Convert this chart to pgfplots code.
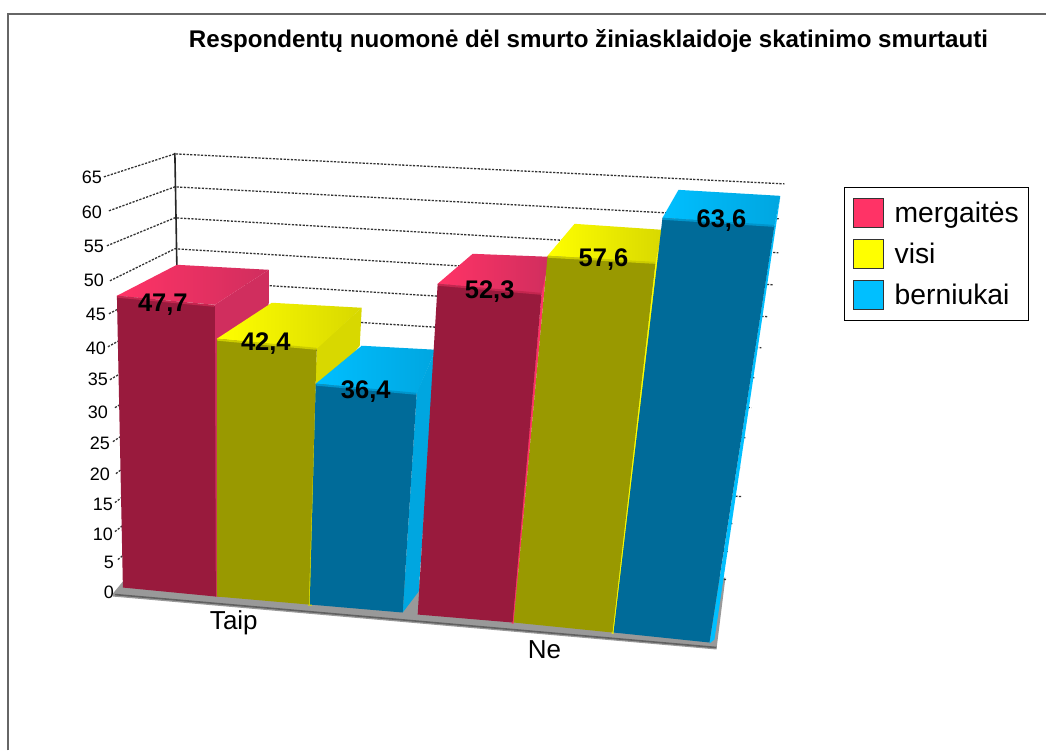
\documentclass[border=0pt]{standalone}
\usepackage{pgfplots}
\pgfplotsset{compat=1.18}
\usepackage{fontspec}
\setmainfont{Liberation Sans}
\definecolor{rT}{HTML}{FF3366}\definecolor{rS}{HTML}{D02E5E}\definecolor{rF}{HTML}{991A3D}\definecolor{rE}{HTML}{C4264F}
\definecolor{yT}{HTML}{FFFF00}\definecolor{yS}{HTML}{D8D800}\definecolor{yF}{HTML}{999900}\definecolor{yE}{HTML}{CCCC00}
\definecolor{bT}{HTML}{00BFFF}\definecolor{bS}{HTML}{00A6E0}\definecolor{bF}{HTML}{006B99}\definecolor{bE}{HTML}{0095CC}
\tikzset{
 grid line/.style={draw=black!80,line width=1.3pt,dash pattern=on 2.2pt off 1.4pt},
 face/.style={draw=none,fill=#1},
 topface/.style 2 args={draw=none,left color=#1,middle color=#1,right color=#2},
 edge/.style={draw=#1,line width=2pt,line cap=round},
 tick lab/.style={font=\fontsize{18}{18}\selectfont,inner sep=0pt},
 val lab/.style={font=\fontsize{25.5}{26}\selectfont\bfseries,inner sep=0pt},
 cat lab/.style={font=\fontsize{26}{26}\selectfont,inner sep=0pt}
}
\begin{document}
\begin{tikzpicture}
\begin{axis}[
 scale only axis,width=1047pt,height=751pt,
 xmin=0,xmax=1047,ymin=0,ymax=751,y dir=reverse,
 axis lines=none,clip=false,
 legend style={at={(axis cs:845,187)},anchor=north west,draw=black,line width=0.9pt,
   font=\fontsize{28.3}{30}\selectfont,inner xsep=8pt,inner ysep=10.5pt,
   row sep=11.4pt,column sep=9pt,cells={anchor=west}},
 legend image code/.code={\draw[#1,line width=0.9pt] (0pt,-14.5pt) rectangle (30pt,14.5pt);},
 legend cell align=left
]
% page and frame
\addplot[draw=none,fill=white,forget plot] coordinates {(0,0)(1047,0)(1047,751)(0,751)} --cycle;
\addplot[draw=black!60,line width=1.6pt,forget plot] coordinates {(8,751)(8,14)(1047,14)};
% floor
\addplot[face=black!40,forget plot] coordinates {(113,594)(123,582)(726,578)(717,650)(113,597)} --cycle;
\addplot[draw=black!62,line width=1.6pt,forget plot] coordinates {(115,595)(717,648)};
% grid: value 65..0, side wall, back corner, right end
\addplot[grid line,forget plot] coordinates {(104,177)(175,154)(785,184)};
\addplot[grid line,forget plot] coordinates {(109,211)(175,187)(780,219)};
\addplot[grid line,forget plot] coordinates {(107,246)(175,218)(779,253)};
\addplot[grid line,forget plot] coordinates {(110,281)(175,249)(774,285)};
\addplot[grid line,forget plot] coordinates {(109,314)(175,280)(769,317)};
\addplot[grid line,forget plot] coordinates {(108,347)(175,311)(762,348)};
\addplot[grid line,forget plot] coordinates {(110,380)(175,342)(755,378)};
\addplot[grid line,forget plot] coordinates {(115,408)(175,372)(752,408)};
\addplot[grid line,forget plot] coordinates {(113,442)(175,401)(746,438)};
\addplot[grid line,forget plot] coordinates {(116,474)(175,430)(741,468)};
\addplot[grid line,forget plot] coordinates {(115,503)(175,458)(742,497)};
\addplot[grid line,forget plot] coordinates {(115,532)(175,486)(733,524)};
\addplot[grid line,forget plot] coordinates {(118,560)(175,513)(729,552)};
\addplot[grid line,forget plot] coordinates {(175,540)(727,580)};
% back axis
\addplot[draw=black!85,line width=1.6pt,forget plot] coordinates {(175,153)(177,266)};
% Taip: mergaites 47,7
\addplot[face=rS,forget plot] coordinates {(215,305)(269,270)(269,303)(220,597)(215,597)} --cycle;
\addplot[topface={rT}{rS},forget plot] coordinates {(117,296)(177,265)(269,270)(215,305)} --cycle;
\addplot[face=rF,forget plot] coordinates {(117,296)(215,306)(216,597)(123,588)} --cycle;
\addplot[edge=rE,forget plot] coordinates {(118,297)(214,306)};
% Taip: visi 42,4
\addplot[face=yS,forget plot] coordinates {(317,348)(362,308)(360,346)(316,400)(312,606)(308,606)} --cycle;
\addplot[topface={yT}{yS},forget plot] coordinates {(217,339)(272,303)(362,308)(317,349)} --cycle;
\addplot[face=yF,forget plot] coordinates {(217,339)(317,349)(309,605)(217,597)} --cycle;
\addplot[edge=yE,forget plot] coordinates {(218,340)(316,349)};
% Taip: berniukai 36,4
\addplot[face=bS,forget plot] coordinates {(417,393)(436,350)(419,592)(403,613)} --cycle;
\addplot[topface={bT}{bS},forget plot] coordinates {(316,384)(362,346)(436,350)(417,394)} --cycle;
\addplot[face=bF,forget plot] coordinates {(316,384)(417,394)(403,613)(310,605)} --cycle;
\addplot[edge=bE,forget plot] coordinates {(317,385)(416,394)};
% Ne: mergaites 52,3
\addplot[face=rT,forget plot] coordinates {(542,293)(548,256)(520,560)(514,624)(512,624)} --cycle;
\addplot[topface={rT}{rS},forget plot] coordinates {(438,284)(473,254)(550,257)(542,294)} --cycle;
\addplot[face=rF,forget plot] coordinates {(438,284)(542,294)(513,623)(418,615)} --cycle;
\addplot[edge=rE,forget plot] coordinates {(439,285)(541,294)};
% Ne: visi 57,6
\addplot[face=yT,forget plot] coordinates {(656,262)(663,230)(620,600)(614,634)(612,634)} --cycle;
\addplot[topface={yT}{yS},forget plot] coordinates {(548,256)(575,224)(663,230)(656,263)} --cycle;
\addplot[face=yF,forget plot] coordinates {(548,256)(656,263)(613,633)(514,623)} --cycle;
\addplot[edge=yE,forget plot] coordinates {(549,257)(655,263)};
% Ne: berniukai 63,6
\addplot[face=bT,forget plot] coordinates {(775,225)(781,196)(715,640)(710,644)} --cycle;
\addplot[topface={bT}{bS},forget plot] coordinates {(663,218)(679,190)(781,196)(775,226)} --cycle;
\addplot[face=bF,forget plot] coordinates {(663,218)(775,226)(710,643)(614,633)} --cycle;
\addplot[edge=bE,forget plot] coordinates {(664,219)(774,226)};
% legend
\addlegendimage{fill=rT,draw=black!80}\addlegendentry{mergaitės}
\addlegendimage{fill=yT,draw=black!80}\addlegendentry{visi}
\addlegendimage{fill=bT,draw=black!80}\addlegendentry{berniukai}
% labels
\node[font=\fontsize{24.15}{25}\selectfont\bfseries,inner sep=0pt] at (axis cs:589,41.5) {Respondentų nuomonė dėl smurto žiniasklaidoje skatinimo smurtauti};
\node[tick lab] at (axis cs:92,177) {65};
\node[tick lab] at (axis cs:92,212) {60};
\node[tick lab] at (axis cs:94,247) {55};
\node[tick lab] at (axis cs:94,281) {50};
\node[tick lab] at (axis cs:96,315) {45};
\node[tick lab] at (axis cs:96,349) {40};
\node[tick lab] at (axis cs:98,380) {35};
\node[tick lab] at (axis cs:98,413) {30};
\node[tick lab] at (axis cs:100,444) {25};
\node[tick lab] at (axis cs:100,475) {20};
\node[tick lab] at (axis cs:103,505) {15};
\node[tick lab] at (axis cs:103,535) {10};
\node[tick lab] at (axis cs:109,563) {5};
\node[tick lab] at (axis cs:109,593) {0};
\node[val lab] at (axis cs:163,305) {47,7};
\node[val lab] at (axis cs:266,344) {42,4};
\node[val lab] at (axis cs:366,392) {36,4};
\node[val lab] at (axis cs:490,292) {52,3};
\node[val lab] at (axis cs:604,260) {57,6};
\node[val lab] at (axis cs:722,221) {63,6};
\node[cat lab] at (axis cs:234,623) {Taip};
\node[cat lab] at (axis cs:545,650) {Ne};
\end{axis}
\end{tikzpicture}
\end{document}
